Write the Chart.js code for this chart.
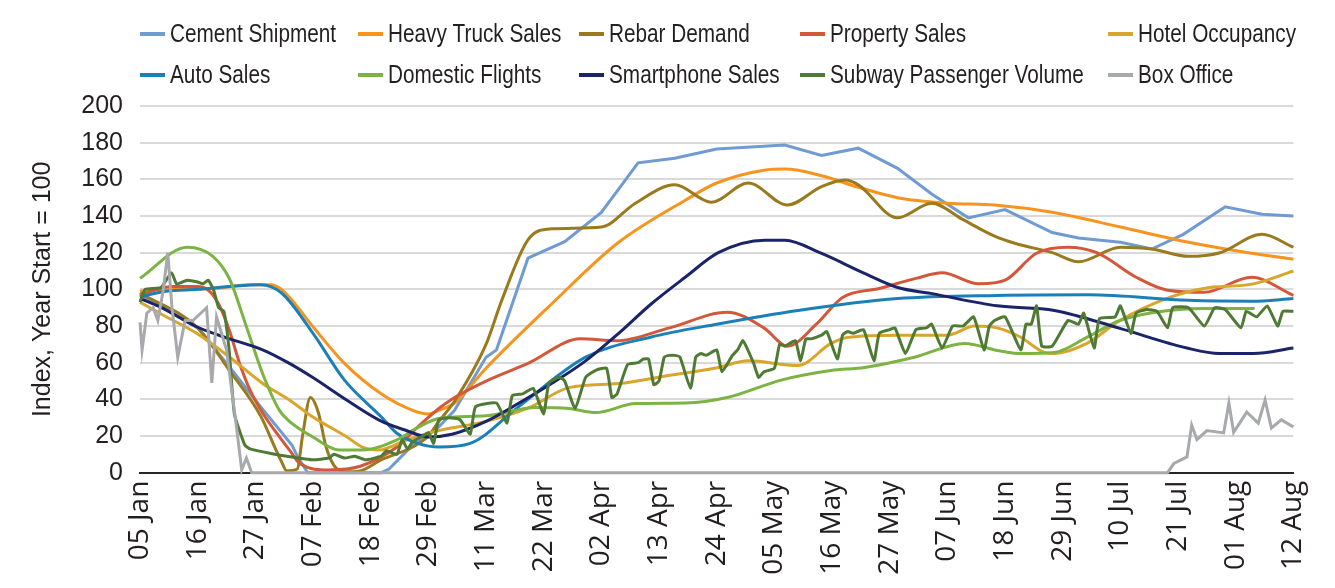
<!DOCTYPE html>
<html>
<head>
<meta charset="utf-8">
<title>Activity indices</title>
<script src="https://cdn.jsdelivr.net/npm/chart.js@4.4.1/dist/chart.umd.min.js"></script>
<style>
  html, body { margin: 0; padding: 0; background: #fff; }
  #wrap { width: 1335px; height: 588px; }
</style>
</head>
<body>
<div id="wrap"><canvas id="chart" width="1335" height="588"></canvas></div>
<script>
// x values are days since 05 Jan; one tick label every 11 days
const tickLabels = ['05 Jan', '16 Jan', '27 Jan', '07 Feb', '18 Feb', '29 Feb', '11 Mar', '22 Mar',
  '02 Apr', '13 Apr', '24 Apr', '05 May', '16 May', '27 May', '07 Jun', '18 Jun', '29 Jun',
  '10 Jul', '21 Jul', '01 Aug', '12 Aug'];

const seriesNames = ['Cement Shipment', 'Heavy Truck Sales', 'Rebar Demand', 'Property Sales', 'Hotel Occupancy',
  'Auto Sales', 'Domestic Flights', 'Smartphone Sales', 'Subway Passenger Volume', 'Box Office'];
const seriesColors = ['#6f9bd2', '#f7941d', '#9a7a1e', '#d3583a', '#d9a52d',
  '#1b80b8', '#7db343', '#1b2468', '#4e7a33', '#a7a9ac'];

const cement = [[0,97],[11,79],[17,58],[23,36],[27,22],[29,15],[30,9],[32,0],[46,0],[47.5,2],[52,15],[57,25],
  [60,34],[66,63],[68,67],[74,117],[81,126],[88,142],[95,169],[102,171.5],[110,176.5],[123,178.7],[130,173],
  [137,177],[144.5,166],[151,152],[158,139],[165,143.5],[174,131],[179,128],[187,125.7],[193,122],[199,130],
  [207,145],[214,141],[220,140]];
const heavyTruck = [[0,99],[6,100],[14,100.5],[21,102.5],[25,102.5],[27,100],[29,94],[33,79.6],[39,59.6],
  [46,43],[52,34],[55,32],[57,34],[60,38],[66,57],[78.5,92],[91,125],[104,148.6],[110,158],[119,165],
  [123,165.6],[130,162],[137,155.7],[144.5,150],[154,147],[163,146],[174,142],[187,134],[200,125.7],
  [212,119.7],[220,116.4]];
const rebar = [[0,98],[11,79],[17,56],[23,31],[26,12],[27,6],[28,1],[30,2],[31,20],[32.5,41],[34,33],
  [35.5,14],[37,4],[39,0.5],[42,1],[46,7],[52,14],[55,20],[57,28],[60,39],[66,70],[69,94],[74,127],
  [78.5,133],[88,134],[94.5,147],[102,157],[109,147.5],[116,158],[123.5,146],[130,156],[134.5,159.6],
  [137,157],[144.5,139],[151,147],[157,138],[163,129],[167,125],[174,120],[179,115],[187,123],[193,122],
  [200,118],[206,120],[214,130],[220,123]];
const property = [[0,97],[4,100.5],[6,101.5],[11,101.5],[13,99.6],[15,92],[17,78],[19,59.6],[21,45],
  [23.5,32],[26.6,19.6],[28.5,12.4],[30.5,5],[36,1.5],[42,3.5],[49,14],[53,25],[57,35],[60,41],[66,50],
  [74,59.6],[84,73],[91,72],[101,79],[112,87.5],[119,79],[123.5,69],[129,81],[134,95.6],[141,100.5],
  [148,106],[153,109],[160,103],[165,105],[171,119.7],[177,123],[182.5,120],[190,106.6],[196,99.5],
  [203,98.4],[212,106.6],[220,96.7]];
const hotel = [[0,93],[4.4,86],[10.8,76],[17.1,63],[23.4,48.7],[28.5,39.6],[32.9,30.5],[39.4,19.6],
  [42.4,14],[45.6,12.4],[50.8,17.8],[57,23],[66,28],[74.2,35.5],[81.8,46.4],[91.3,48.6],[100.8,53],
  [110.3,57.4],[116,61],[125.5,58.5],[131.8,70.5],[135,73.8],[144.5,75],[154,75],[159.2,80],[163.5,79],
  [167.9,74],[172.5,65.6],[174.4,65],[180.6,70.5],[186.9,83],[196.4,95.6],[202.9,100.5],[212.4,103],[220,110]];
const auto = [[0,96],[5,99],[11,100],[17,101.5],[23,102.5],[27,98],[33,76],[39,50.5],[46,30.5],[49,21.5],
  [53,16],[57,14],[63,16],[72,35.5],[85,63],[97.5,74],[110,81],[125.5,88.5],[144.5,95],[163.5,96.7],
  [181,97],[200,94],[212,93.5],[220,95]];
const flights = [[0,106],[9,123],[13.9,118],[17.1,105.5],[20.3,79.6],[23.4,54],[26.6,34],[28.5,28],
  [32.9,19.6],[38,12.4],[42.4,12.4],[48.9,17.8],[53.2,25],[57,29.6],[66,31],[75.5,35.5],[81.8,35],
  [86.9,32.8],[94.5,37.7],[104,38],[112,41],[122.3,50.5],[131.8,55.7],[138.2,57.4],[147.7,63],[157.3,70.5],
  [163.5,66.7],[167.9,65],[174.4,65.6],[180.6,73.8],[186.9,83],[193.4,87.4],[202.9,89.6],[212.6,89.6]];
const smartphone = [[0,95],[4.4,89.6],[10.8,79.6],[17.1,73],[23.4,67],[28.5,59.6],[32.9,52],[39.4,39.6],
  [45.6,28.7],[50.8,23],[55,19.5],[59.5,21],[66,28],[72.3,38],[78.5,48.6],[85,61],[91.3,76],[97.5,92],
  [104,106.6],[110.3,120],[119.2,126.8],[123,126.8],[129.9,119.7],[138.2,108.7],[144.5,101],[150.8,97.8],
  [163.5,91],[174.4,88.5],[186.9,78.7],[199.7,68],[205.9,65],[212.4,65],[220,68]];
const subway = [[0,93],[1,100],[4,101],[6,109],[7,103],[9,105],[11,104],[12,103],[13,105],[14,100],[15,90],
  [16,88],[17,67],[18,32],[20,15],[21,13],[25,10.5],[28,9],[33,7],[36,8],[37,10],[39,8],[41,9],[43,7],
  [46,9],[47,12],[49,10],[50,18],[51,13],[52,17],[54,20],[55,22],[56,16],[57,29],[59,30],[61,29],[63,21],
  [64,36],[68,38],[70,27],[71,42],[73,43],[75,46],[77,32],[78,49],[80,52],[81,50],[83,35],[85,52],[87,56],
  [89,57],[90,41],[91,43],[93,59],[95,60],[96,62],[97,62],[98,48],[99,50],[100,63],[101,64],[102,64],
  [103,63],[105,46],[106,63],[107,65],[108,64],[110,67],[111,55],[113,64],[114,67],[115,72],[117,60],
  [118,52],[119,55],[121,57],[122,70],[123,69],[125,72],[126,61],[127,73],[128,73],[130,75],[131,77],
  [133,62],[134,75],[135,77],[136,76],[138,78],[140,61],[141,76],[143,78],[144,79],[146,65],[148,78],
  [150,79],[151,81],[153,68],[155,80],[157,80],[159,85],[161,67],[162,80],[163,83],[165,85],[168,67],
  [169,81],[170,81],[171,91],[172,69],[174,69],[177,83],[179,81],[180,87],[182,68],[183,84],[186,85],
  [187,91],[189,76],[190,87],[192,89],[194,88],[196,79],[197,90],[200,90],[203,80],[205,90],[207,89],
  [210,79],[211,88],[213,85],[215,91],[217,80],[218,88],[220,88]];
const boxOffice = [[0,82],[0.4,67],[1.3,87],[2.5,90],[3.4,83],[4.4,99],[5.3,120],[6.1,90],[7.2,63],
  [8.6,83],[10.1,83],[12.7,90],[13.7,49],[14.6,85],[16.5,67],[18.4,25],[19.4,1.5],[20.3,8],[21.3,0],
  [196,0],[197.2,5],[199.7,8.6],[200.6,26],[201.6,18],[203.5,23],[206.7,21.7],[207.7,38],[208.6,22],
  [211.1,33],[213.3,27],[214.6,39.7],[215.8,24.4],[217.7,28.8],[220,25]];

const seriesData = [cement, heavyTruck, rebar, property, hotel, auto, flights, smartphone, subway, boxOffice];

const sans = "'Liberation Sans', Arial, sans-serif";
const textColor = '#231f20';

// Excel-style legend: two rows, fixed column starts, text squeezed to look condensed
const legendGrid = {
  id: 'legendGrid',
  afterDraw(chart) {
    const ctx = chart.ctx;
    const cols = [140, 358, 579, 800, 1108];
    const rows = [34, 75];
    ctx.save();
    ctx.font = '25px ' + sans;
    ctx.textBaseline = 'middle';
    seriesNames.forEach((name, i) => {
      const x = cols[i % 5], y = rows[Math.floor(i / 5)];
      ctx.strokeStyle = seriesColors[i];
      ctx.lineWidth = 4;
      ctx.beginPath();
      ctx.moveTo(x, y);
      ctx.lineTo(x + 25, y);
      ctx.stroke();
      ctx.save();
      ctx.translate(x + 30, y + 1);
      ctx.scale(0.83, 1);
      ctx.fillStyle = textColor;
      ctx.fillText(name, 0, 0);
      ctx.restore();
    });
    ctx.restore();
  }
};

const jagged = ['Cement Shipment', 'Subway Passenger Volume', 'Box Office'];

const datasets = seriesNames.map((name, i) => ({
  label: name,
  data: seriesData[i].map(p => ({ x: p[0], y: p[1] })),
  borderColor: seriesColors[i],
  backgroundColor: seriesColors[i],
  borderWidth: 3,
  pointRadius: 0,
  fill: false,
  clip: false,
  order: seriesNames.length - i,
  cubicInterpolationMode: jagged.includes(name) ? 'default' : 'monotone',
  tension: name === 'Subway Passenger Volume' ? 0.15 : 0
}));

new Chart(document.getElementById('chart'), {
  type: 'line',
  data: { datasets },
  plugins: [legendGrid],
  options: {
    responsive: false,
    animation: false,
    devicePixelRatio: 1,
    layout: { padding: { top: 106, right: 38, left: 0, bottom: 0 } },
    plugins: {
      legend: { display: false },
      tooltip: { enabled: false }
    },
    scales: {
      x: {
        type: 'linear',
        min: 0,
        max: 220,
        afterFit: s => { s.height = 115.3; },
        grid: { display: false, drawTicks: false },
        border: { display: true, color: '#262626', width: 2 },
        ticks: {
          stepSize: 11,
          autoSkip: false,
          maxRotation: 90,
          minRotation: 90,
          padding: 8,
          color: textColor,
          font: { family: "'Open Sans', sans-serif", size: 28 },
          callback: (v, i) => tickLabels[i]
        }
      },
      y: {
        min: 0,
        max: 200,
        afterFit: s => { s.width = 140; },
        grid: { color: '#d9d9d9', lineWidth: 2, drawTicks: false },
        border: { display: false },
        ticks: {
          stepSize: 20,
          padding: 17,
          color: textColor,
          font: { family: sans, size: 25 }
        },
        title: {
          display: true,
          text: 'Index, Year Start = 100',
          color: textColor,
          padding: { top: 28, bottom: 0 },
          font: { family: sans, size: 25 }
        }
      }
    }
  }
});
</script>
</body>
</html>
